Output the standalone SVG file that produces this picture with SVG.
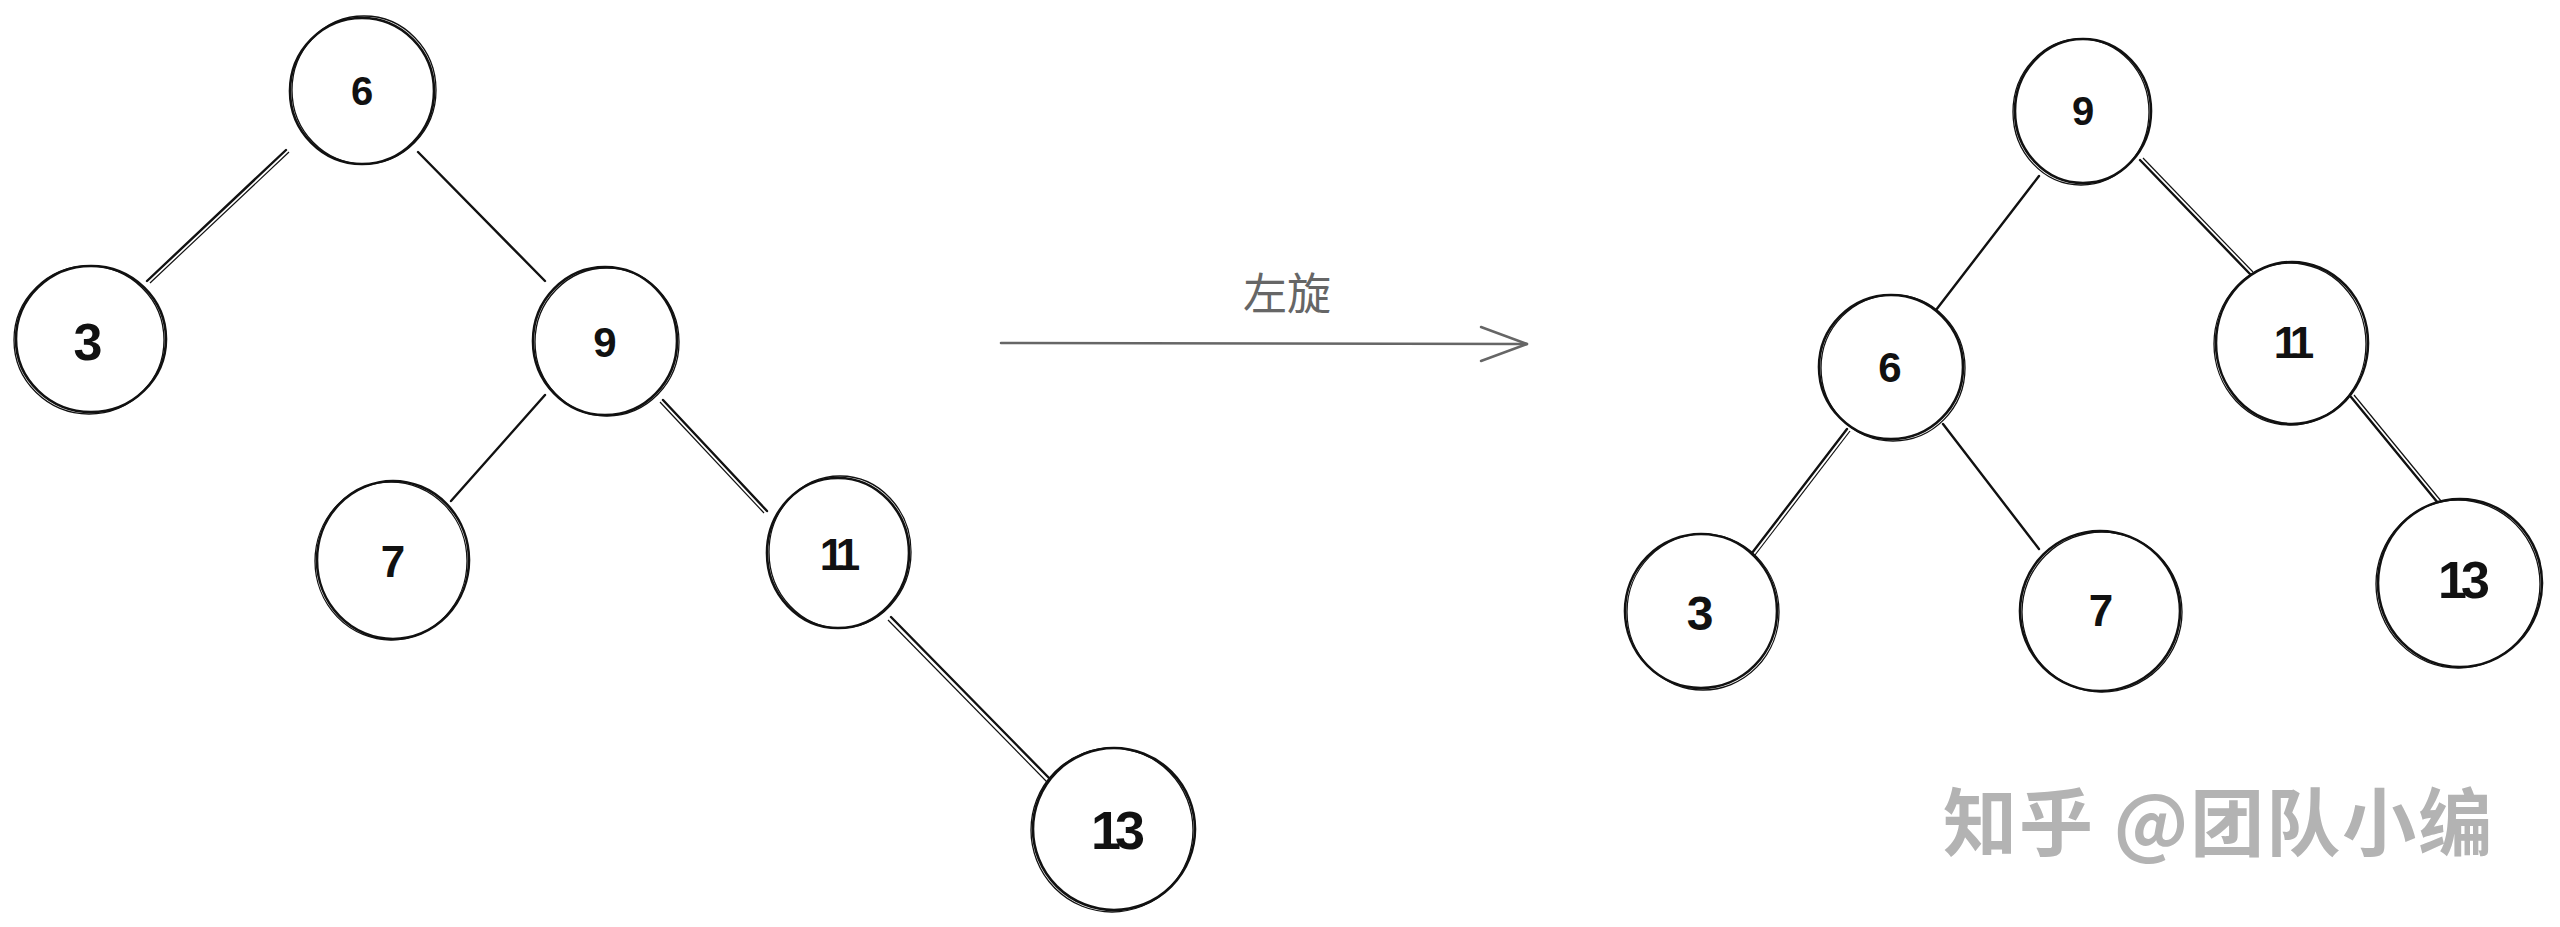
<svg xmlns="http://www.w3.org/2000/svg" width="2560" height="927" viewBox="0 0 2560 927">
<style>
.c{fill:#fff;stroke:#111;stroke-width:2.6}
.c2{fill:none;stroke:#111;stroke-width:1.3}
.l{stroke:#111;stroke-width:2.4;fill:none;stroke-linecap:round}
.l2{stroke:#111;stroke-width:1.2;fill:none}
.n{font-family:"Liberation Sans","DejaVu Sans",sans-serif;font-weight:bold;fill:#111;text-anchor:middle;dominant-baseline:central}
.lab{font-family:"Noto Sans CJK SC",sans-serif;fill:#666;font-size:44px;text-anchor:middle;dominant-baseline:central}
.wm{font-family:"Noto Sans CJK SC",sans-serif;fill:#b3b3b3;font-size:74px;font-weight:bold}
</style>
<rect width="2560" height="927" fill="#fff"/>
<g id="connectors">
<line class="l" x1="286" y1="150" x2="147" y2="281"/><line class="l2" x1="289" y1="152" x2="150" y2="283"/>
<line class="l" x1="418" y1="152" x2="545" y2="281"/>
<line class="l" x1="545" y1="395" x2="451" y2="501"/>
<line class="l" x1="663" y1="400" x2="767" y2="511"/><line class="l2" x1="660" y1="402" x2="764" y2="513"/>
<line class="l" x1="891" y1="617" x2="1050" y2="779"/><line class="l2" x1="888" y1="620" x2="1047" y2="782"/>
<line class="l" x1="2039" y1="176" x2="1936" y2="310"/>
<line class="l" x1="2140" y1="160" x2="2250" y2="274"/><line class="l2" x1="2143" y1="158" x2="2253" y2="272"/>
<line class="l" x1="1847" y1="429" x2="1752" y2="553"/><line class="l2" x1="1850" y1="431" x2="1755" y2="555"/>
<line class="l" x1="1943" y1="424" x2="2039" y2="549"/>
<line class="l" x1="2351" y1="397" x2="2438" y2="503"/><line class="l2" x1="2354" y1="395" x2="2441" y2="501"/>
<g id="arrow">
<line x1="1001" y1="343" x2="1527" y2="344" stroke="#666" stroke-width="2.6" stroke-linecap="round"/>
<polyline points="1481,327 1527,344 1481,361" fill="none" stroke="#666" stroke-width="2.4" stroke-linecap="round" stroke-linejoin="round"/>
<text class="lab" x="1287" y="291">左旋</text>
</g>
</g>
<g id="L6"><ellipse class="c" cx="362" cy="91" rx="72" ry="73"/><ellipse class="c2" cx="364" cy="90" rx="72" ry="74"/><text class="n" x="362" y="91" font-size="40">6</text></g>
<g id="L3"><ellipse class="c" cx="91" cy="339" rx="75" ry="73"/><ellipse class="c2" cx="89" cy="340" rx="75" ry="74"/><text class="n" x="88" y="342" font-size="52">3</text></g>
<g id="L9"><ellipse class="c" cx="605" cy="341" rx="72" ry="74"/><ellipse class="c2" cx="607" cy="342" rx="72" ry="74"/><text class="n" x="605" y="342" font-size="42">9</text></g>
<g id="L7"><ellipse class="c" cx="393" cy="560" rx="76" ry="79"/><ellipse class="c2" cx="391" cy="561" rx="76" ry="79"/><text class="n" x="393" y="561" font-size="44">7</text></g>
<g id="L11"><ellipse class="c" cx="838" cy="553" rx="71" ry="75"/><ellipse class="c2" cx="840" cy="552" rx="71" ry="76"/><text class="n" x="837" y="554" font-size="44" letter-spacing="-6">11</text></g>
<g id="L13"><ellipse class="c" cx="1114" cy="829" rx="81" ry="81"/><ellipse class="c2" cx="1112" cy="830" rx="81" ry="82"/><text class="n" x="1115" y="830" font-size="54" letter-spacing="-6">13</text></g>
<g id="R9"><ellipse class="c" cx="2083" cy="111" rx="68" ry="72"/><ellipse class="c2" cx="2081" cy="112" rx="68" ry="73"/><text class="n" x="2083" y="111" font-size="40">9</text></g>
<g id="R6"><ellipse class="c" cx="1891" cy="367" rx="72" ry="72"/><ellipse class="c2" cx="1893" cy="368" rx="72" ry="73"/><text class="n" x="1890" y="367" font-size="42">6</text></g>
<g id="R11"><ellipse class="c" cx="2292" cy="343" rx="76" ry="81"/><ellipse class="c2" cx="2290" cy="344" rx="76" ry="81"/><text class="n" x="2291" y="342" font-size="44" letter-spacing="-6">11</text></g>
<g id="R3"><ellipse class="c" cx="1701" cy="611" rx="76" ry="77"/><ellipse class="c2" cx="1703" cy="612" rx="76" ry="78"/><text class="n" x="1700" y="613" font-size="48">3</text></g>
<g id="R7"><ellipse class="c" cx="2100" cy="611" rx="80" ry="80"/><ellipse class="c2" cx="2102" cy="612" rx="80" ry="80"/><text class="n" x="2101" y="610" font-size="44">7</text></g>
<g id="R13"><ellipse class="c" cx="2460" cy="583" rx="82" ry="84"/><ellipse class="c2" cx="2458" cy="584" rx="82" ry="84"/><text class="n" x="2461" y="580" font-size="52" letter-spacing="-6">13</text></g>
<text class="wm" x="1943" y="850" letter-spacing="2">知乎 @团队小编</text>
</svg>
